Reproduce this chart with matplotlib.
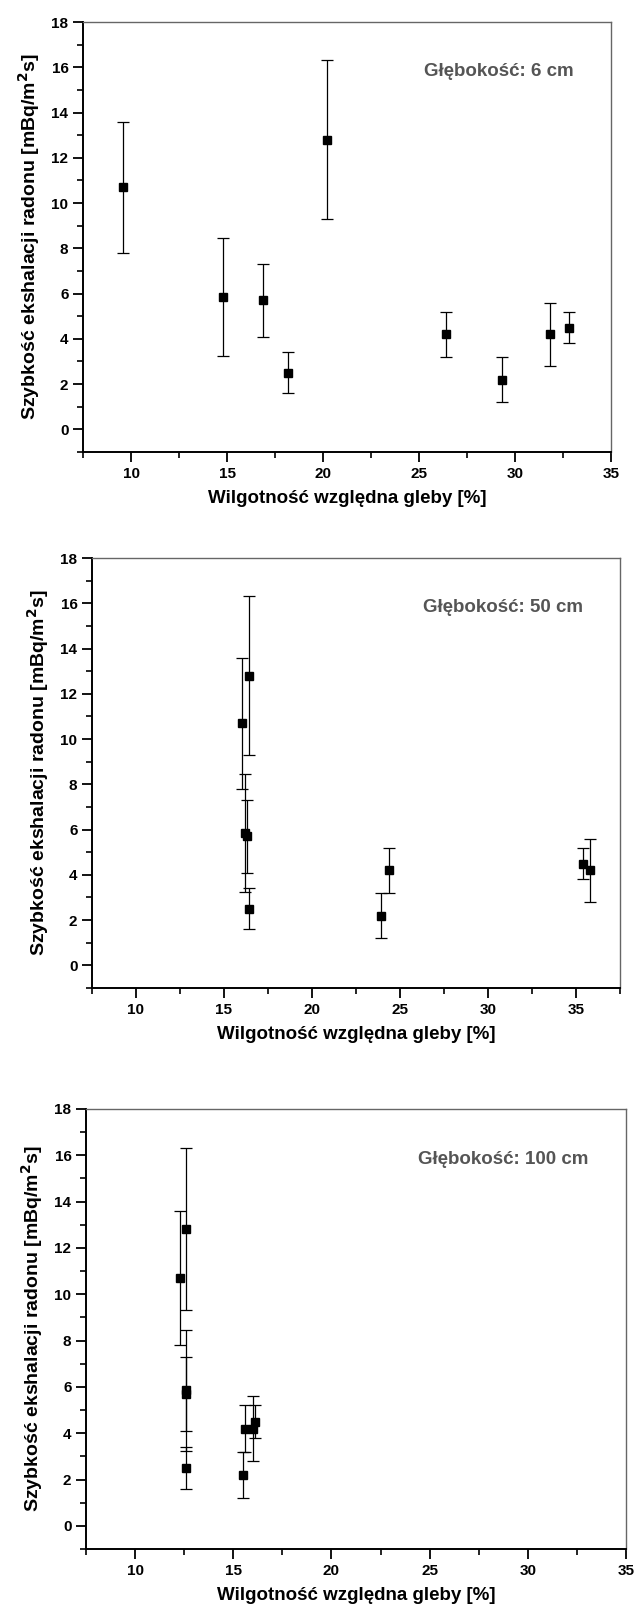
import matplotlib
matplotlib.use("Agg")
import matplotlib.pyplot as plt
from matplotlib.ticker import MultipleLocator

# Radon exhalation rate and its uncertainty (same for every depth)
rate = [10.7, 5.85, 5.7, 2.5, 12.8, 4.2, 2.2, 4.2, 4.5]
rate_err = [2.9, 2.6, 1.6, 0.9, 3.5, 1.0, 1.0, 1.4, 0.7]

# Soil relative moisture at each depth
moist_6cm = [9.6, 14.8, 16.9, 18.2, 20.2, 26.4, 29.3, 31.8, 32.8]
moist_50cm = [16.0, 16.2, 16.3, 16.4, 16.4, 24.4, 23.9, 35.8, 35.4]
moist_100cm = [12.3, 12.6, 12.6, 12.6, 12.6, 15.6, 15.5, 16.0, 16.1]

depth_labels = ["Głębokość: 6 cm", "Głębokość: 50 cm", "Głębokość: 100 cm"]
x_limits = [(7.5, 35), (7.5, 37.5), (7.5, 35)]

plt.rcParams['font.family'] = ['Liberation Sans', 'DejaVu Sans']
plt.rcParams['font.weight'] = 'bold'

W, H = 637, 1614
fig = plt.figure(figsize=(W / 100, H / 100), dpi=100)

# axes boxes in pixels: left, right, top, bottom
boxes = [(83, 611, 22, 452), (92, 620, 558, 988), (86, 626, 1109, 1549)]

for (l, r, t, b), xs, label, xlim in zip(boxes, [moist_6cm, moist_50cm, moist_100cm], depth_labels, x_limits):
    ax = fig.add_axes([l / W, 1 - b / H, (r - l) / W, (b - t) / H])
    ax.errorbar(xs, rate, yerr=rate_err, fmt='s', color='black', ms=6,
                elinewidth=0.9, capsize=4, capthick=0.9)
    ax.set_xlim(*xlim)
    ax.set_ylim(-1, 18)
    ax.xaxis.set_major_locator(MultipleLocator(5))
    ax.xaxis.set_minor_locator(MultipleLocator(2.5))
    ax.yaxis.set_major_locator(MultipleLocator(2))
    ax.yaxis.set_minor_locator(MultipleLocator(1))
    ax.tick_params(which='major', direction='out', length=7, width=1.3, labelsize=11)
    ax.tick_params(which='minor', direction='out', length=4, width=1.2)
    for s in ['left', 'bottom']:
        ax.spines[s].set_linewidth(1.4)
    for s in ['top', 'right']:
        ax.spines[s].set_color('#666666')
        ax.spines[s].set_linewidth(1.0)
    for lab in ax.get_xticklabels() + ax.get_yticklabels():
        lab.set_fontweight('bold')
    ax.set_xlabel("Wilgotność względna gleby [%]", fontsize=13.5, fontweight='bold', labelpad=7)
    ax.set_ylabel("Szybkość ekshalacji radonu [mBq/m$\\mathbf{^2}$s]", fontsize=14,
                  fontweight='bold', labelpad=7)
    ax.text(0.93, 0.885, label, transform=ax.transAxes, ha='right', va='center',
            fontsize=13.5, fontweight='bold', color='#555555')

fig.savefig("out.png", dpi=100)
